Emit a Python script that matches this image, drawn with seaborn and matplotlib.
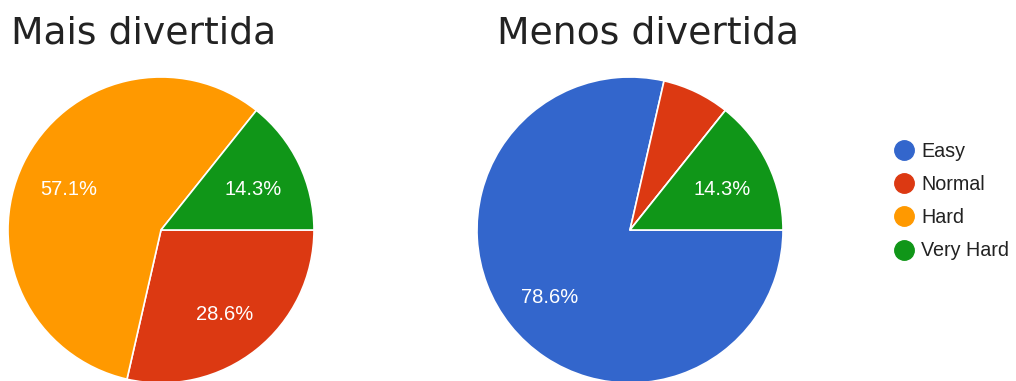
import matplotlib
matplotlib.use("Agg")
import matplotlib.pyplot as plt
from matplotlib.lines import Line2D
import seaborn as sns

# Survey answers: which difficulty was the most / least fun (14 responses each)
categories = ["Easy", "Normal", "Hard", "Very Hard"]
mais_divertida = [0, 4, 8, 2]
menos_divertida = [11, 1, 0, 2]
titles = ["Mais divertida", "Menos divertida"]

sns.set_theme(style="white")
palette = sns.color_palette(["#3366CC", "#DC3912", "#FF9900", "#109618"])

W, H = 1016, 381
fig = plt.figure(figsize=(W / 100, H / 100), dpi=100)
fig.patch.set_facecolor("white")


def px_axes(cx, cy, r):
    """Square axes centred at pixel (cx, cy) with pixel radius r (top-left origin)."""
    return fig.add_axes([(cx - r) / W, (H - cy - r) / H, 2 * r / W, 2 * r / H])


def pct_label(p):
    return f"{p:.1f}%" if p >= 10 else ""


centers = [(161, 230), (630, 230)]
radius = 153
series = [mais_divertida, menos_divertida]

for (cx, cy), values, title, tx in zip(centers, series, titles, [11, 497]):
    ax = px_axes(cx, cy, radius)
    wedges, _, autotexts = ax.pie(
        values,
        colors=palette,
        startangle=0,
        counterclock=False,
        radius=1.0,
        autopct=pct_label,
        pctdistance=0.67,
        wedgeprops=dict(edgecolor="white", linewidth=1.2),
        textprops=dict(color="white", fontsize=14.5, family="Liberation Sans"),
    )
    # percentage labels sit a few pixels below the wedge centroid
    for t in autotexts:
        x, y = t.get_position()
        t.set_position((x, y - 4 / radius))
    ax.set_xlim(-1.0, 1.0)
    ax.set_ylim(-1.0, 1.0)
    ax.set_aspect("equal")
    ax.axis("off")
    fig.text(tx / W, 1 - 43 / H, title, fontsize=27.2, color="#222222",
             family="DejaVu Sans", va="baseline", ha="left")

handles = [
    Line2D([0], [0], marker="o", linestyle="", markersize=14,
           markerfacecolor=c, markeredgecolor=c)
    for c in palette
]
fig.legend(
    handles, categories,
    loc="upper left",
    bbox_to_anchor=(884 / W, 1 - 132 / H),
    frameon=False,
    handletextpad=0.4,
    handlelength=1.0,
    labelspacing=0.72,
    prop=dict(family="Liberation Sans", size=14.2),
    labelcolor="#222222",
    borderpad=0,
)

fig.savefig("out.png", dpi=100, facecolor="white")
